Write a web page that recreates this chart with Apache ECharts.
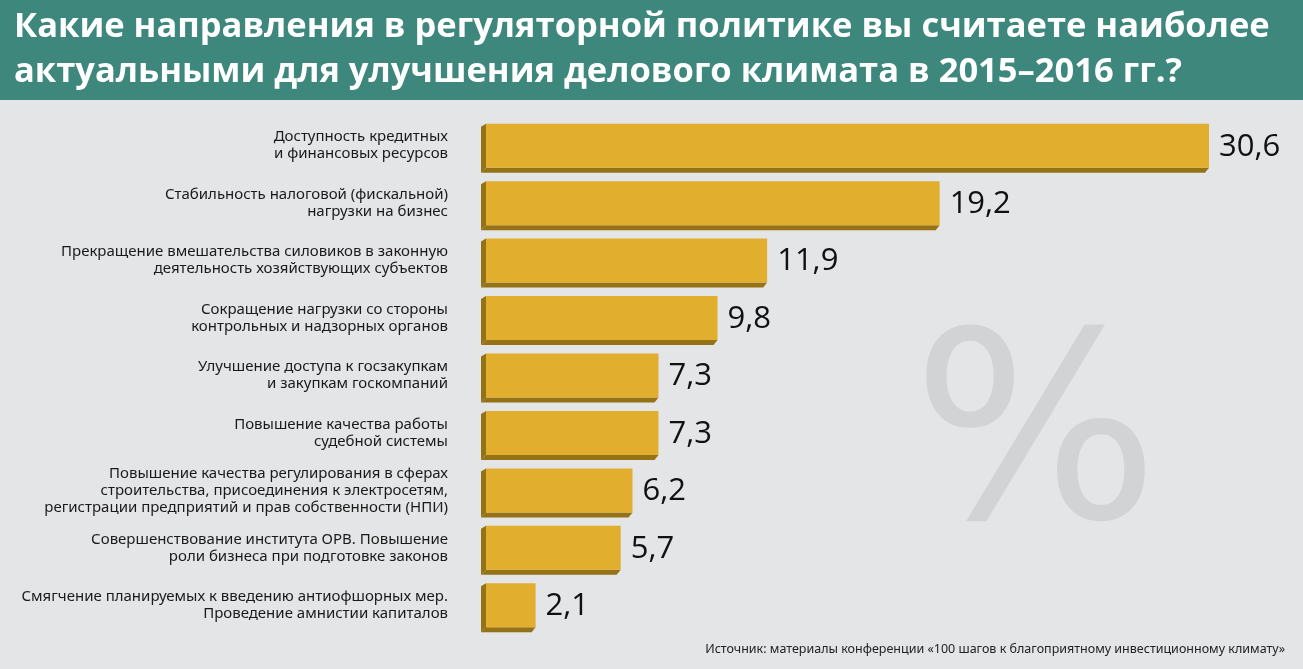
<!DOCTYPE html>
<html><head><meta charset="utf-8">
<script src="https://cdn.jsdelivr.net/npm/echarts@6/dist/echarts.min.js"></script>
<style>
html,body{margin:0;padding:0;background:#e4e5e7;}
#chart{width:1303px;height:669px;}
</style></head>
<body><div id="chart"></div>
<script>
const categories = [
    'Доступность кредитных\nи финансовых ресурсов',
    'Стабильность налоговой (фискальной)\nнагрузки на бизнес',
    'Прекращение вмешательства силовиков в законную\nдеятельность хозяйствующих субъектов',
    'Сокращение нагрузки со стороны\nконтрольных и надзорных органов',
    'Улучшение доступа к госзакупкам\nи закупкам госкомпаний',
    'Повышение качества работы\nсудебной системы',
    'Повышение качества регулирования в сферах\nстроительства, присоединения к электросетям,\nрегистрации предприятий и прав собственности (НПИ)',
    'Совершенствование института ОРВ. Повышение\nроли бизнеса при подготовке законов',
    'Смягчение планируемых к введению антиофшорных мер.\nПроведение амнистии капиталов'
];
const values = [30.6, 19.2, 11.9, 9.8, 7.3, 7.3, 6.2, 5.7, 2.1];

const chart = echarts.init(document.getElementById('chart'));

// 3D-брусок: тёмная грань слева и снизу
function renderBar(params, api) {
    const start = api.coord([0, api.value(1)]);
    const end = api.coord([api.value(0), api.value(1)]);
    const h = 44, d = 5;
    const x0 = start[0], x1 = end[0], y0 = start[1] - h / 2, y1 = start[1] + h / 2;
    const dark = '#957216';
    return {
        type: 'group',
        children: [
            { type: 'polygon', shape: { points: [[x0 - d, y0 + 3], [x0, y0], [x0, y1], [x0 - d, y1 + d]] }, style: { fill: dark } },
            { type: 'polygon', shape: { points: [[x0 - d, y1 + d], [x0, y1], [x1, y1], [x1 - 4, y1 + d]] }, style: { fill: dark } },
            { type: 'rect', shape: { x: x0, y: y0, width: x1 - x0, height: h }, style: { fill: '#e2ae2e' } },
            { type: 'text', x: x1 + 10, y: start[1] + 1, style: { text: String(api.value(0)).replace('.', ','), font: '31px "Open Sans", sans-serif', fill: '#111', verticalAlign: 'middle' } }
        ]
    };
}

chart.setOption({
    backgroundColor: '#e4e5e7',
    animation: false,
    graphic: [
        { type: 'rect', left: 0, top: 0, shape: { width: 1303, height: 100 }, style: { fill: '#3d877d' } },
        { type: 'text', left: 14, top: 5, style: { text: 'Какие направления в регуляторной политике вы считаете наиболее\nактуальными для улучшения делового климата в 2015–2016 гг.?', font: 'bold 34.5px "Open Sans", sans-serif', fill: '#fff', lineHeight: 45 } },
        { type: 'text', left: 912, top: 320, z: -1, style: { text: '%', font: '260px "DejaVu Sans", sans-serif', fill: '#d2d3d5' } },
        { type: 'text', right: 18, top: 643, style: { text: 'Источник: материалы конференции «100 шагов к благоприятному инвестиционному климату»', font: '12.5px "Noto Sans", sans-serif', fill: '#222' } }
    ],
    grid: { left: 486, right: 94, top: 117, height: 517 },
    xAxis: { type: 'value', min: 0, max: 30.6, show: false },
    yAxis: {
        type: 'category', inverse: true,
        data: categories,
        axisLine: { show: false }, axisTick: { show: false },
        axisLabel: { margin: 38, align: 'right', color: '#1a1a1a', fontSize: 15, lineHeight: 17, fontFamily: '"Noto Sans", sans-serif' }
    },
    series: [{
        type: 'custom',
        renderItem: renderBar,
        encode: { x: 0, y: 1 },
        data: values.map((v, i) => [v, i])
    }]
});
</script></body></html>
